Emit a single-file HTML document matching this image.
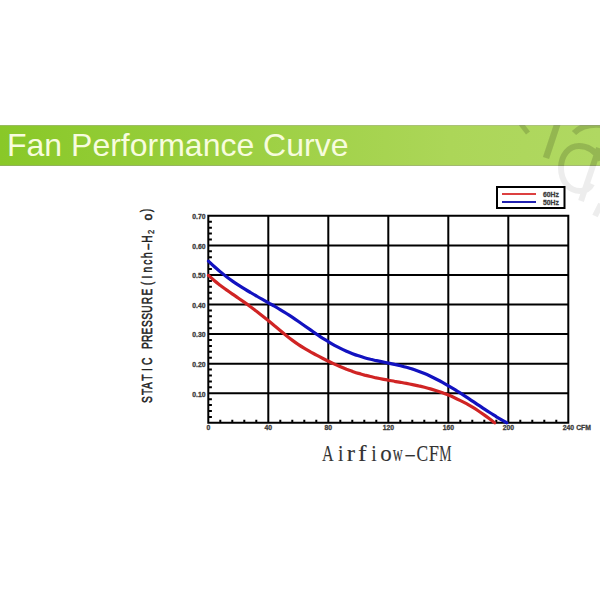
<!DOCTYPE html>
<html><head><meta charset="utf-8">
<style>
html,body{margin:0;padding:0;background:#fff;}
body{width:600px;height:600px;position:relative;overflow:hidden;font-family:"Liberation Sans",sans-serif;}
#bar{position:absolute;left:0;top:125px;width:600px;height:41px;background:linear-gradient(to right,#89c828 0%,#acd658 75%,#b0d862 100%);box-shadow:inset 0 1px 0 rgba(170,170,160,0.45),inset 0 -1px 0 rgba(150,150,140,0.45);}
#title{position:absolute;left:7px;top:125px;height:40px;line-height:40px;font-size:32px;color:#f7fcde;white-space:nowrap;}
svg{position:absolute;left:0;top:0;}
</style></head><body>
<div id="bar"></div>
<div id="title">Fan Performance Curve</div>
<svg width="600" height="600" viewBox="0 0 600 600">
<defs><clipPath id="wmc"><rect x="0" y="125" width="600" height="41"/></clipPath><clipPath id="wmc2"><rect x="0" y="166" width="600" height="434"/></clipPath></defs>
<filter id="wb" x="-10%" y="-10%" width="120%" height="120%"><feGaussianBlur stdDeviation="0.7"/></filter>
<g id="wm" opacity="0.15" fill="none" stroke="#000" stroke-width="6" clip-path="url(#wmc)"><g filter="url(#wb)">
<path d="M521,124 L528,133" stroke-width="5"/>
<path d="M558,122 L546,158" stroke-width="6.5"/>
<path d="M601,160 C596,152 588,146 579,146 C569,146 561,155 561,168 C561,182 570,191 580,191 C586,191 590,188 592,184"/>
<path d="M599,148 L581,201"/>
<path d="M574,133 C580,127 590,124 601,125"/>
<path d="M601,204 L595,216"/>
</g></g>
<g opacity="0.065" fill="none" stroke="#000" stroke-width="6" clip-path="url(#wmc2)"><g filter="url(#wb)">
<path d="M521,124 L528,133" stroke-width="5"/>
<path d="M558,122 L546,158" stroke-width="6.5"/>
<path d="M601,160 C596,152 588,146 579,146 C569,146 561,155 561,168 C561,182 570,191 580,191 C586,191 590,188 592,184"/>
<path d="M599,148 L581,201"/>
<path d="M574,133 C580,127 590,124 601,125"/>
<path d="M601,204 L595,216"/>
</g></g>
<path stroke="#000" stroke-width="2.0" fill="none" d="M207.30,422.86H569.30 M207.30,393.28H569.30 M207.30,363.70H569.30 M207.30,334.12H569.30 M207.30,304.54H569.30 M207.30,274.96H569.30 M207.30,245.38H569.30 M207.30,215.80H569.30 M208.30,214.80V423.86 M268.30,214.80V423.86 M328.30,214.80V423.86 M388.30,214.80V423.86 M448.30,214.80V423.86 M508.30,214.80V423.86 M568.30,214.80V423.86"/>
<path stroke="#000" stroke-width="2.0" fill="none" d="M208.30,416.94H211.90 M208.30,411.03H211.90 M208.30,405.11H211.90 M208.30,399.20H211.90 M208.30,387.36H211.90 M208.30,381.45H211.90 M208.30,375.53H211.90 M208.30,369.62H211.90 M208.30,357.78H211.90 M208.30,351.87H211.90 M208.30,345.95H211.90 M208.30,340.04H211.90 M208.30,328.20H211.90 M208.30,322.29H211.90 M208.30,316.37H211.90 M208.30,310.46H211.90 M208.30,298.62H211.90 M208.30,292.71H211.90 M208.30,286.79H211.90 M208.30,280.88H211.90 M208.30,269.04H211.90 M208.30,263.13H211.90 M208.30,257.21H211.90 M208.30,251.30H211.90 M208.30,239.46H211.90 M208.30,233.55H211.90 M208.30,227.63H211.90 M208.30,221.72H211.90 M220.30,422.86V419.86 M232.30,422.86V419.86 M244.30,422.86V419.86 M256.30,422.86V419.86 M280.30,422.86V419.86 M292.30,422.86V419.86 M304.30,422.86V419.86 M316.30,422.86V419.86 M340.30,422.86V419.86 M352.30,422.86V419.86 M364.30,422.86V419.86 M376.30,422.86V419.86 M400.30,422.86V419.86 M412.30,422.86V419.86 M424.30,422.86V419.86 M436.30,422.86V419.86 M460.30,422.86V419.86 M472.30,422.86V419.86 M484.30,422.86V419.86 M496.30,422.86V419.86 M520.30,422.86V419.86 M532.30,422.86V419.86 M544.30,422.86V419.86 M556.30,422.86V419.86"/>
<g font-family="Liberation Sans" font-weight="bold" font-size="6.8" fill="#3c3c3c" stroke="#3c3c3c" stroke-width="0.3" text-anchor="end">
<text x="205.5" y="396.58">0.10</text>
<text x="205.5" y="367.00">0.20</text>
<text x="205.5" y="337.42">0.30</text>
<text x="205.5" y="307.84">0.40</text>
<text x="205.5" y="278.26">0.50</text>
<text x="205.5" y="248.68">0.60</text>
<text x="205.5" y="219.10">0.70</text>
</g>
<g font-family="Liberation Sans" font-weight="bold" font-size="6.8" fill="#3c3c3c" stroke="#3c3c3c" stroke-width="0.3" text-anchor="middle">
<text x="208.30" y="430.20">0</text>
<text x="268.30" y="430.20">40</text>
<text x="328.30" y="430.20">80</text>
<text x="388.30" y="430.20">120</text>
<text x="448.30" y="430.20">160</text>
<text x="508.30" y="430.20">200</text>
<text x="568.30" y="430.20">240</text>
<text x="583.5" y="430.2">CFM</text>
</g>
<path fill="none" stroke="#1212c0" stroke-width="3.2" stroke-linecap="round" d="M208.5,261.1 C209.5,262.0 212.5,265.0 214.5,266.8 C216.5,268.6 218.5,270.3 220.5,271.9 C222.5,273.6 224.5,275.2 226.5,276.7 C228.5,278.2 230.5,279.7 232.5,281.1 C234.5,282.5 236.5,283.8 238.5,285.1 C240.5,286.4 242.5,287.7 244.5,288.9 C246.5,290.2 248.5,291.4 250.5,292.5 C252.5,293.7 254.5,294.9 256.5,296.0 C258.5,297.2 260.5,298.3 262.5,299.4 C264.5,300.5 266.5,301.7 268.5,302.8 C270.5,303.9 272.5,305.1 274.5,306.2 C276.5,307.4 278.5,308.6 280.5,309.8 C282.5,311.0 284.5,312.2 286.5,313.5 C288.5,314.8 290.5,316.1 292.5,317.4 C294.5,318.7 296.5,320.1 298.5,321.5 C300.5,322.9 302.5,324.3 304.5,325.7 C306.5,327.1 308.5,328.5 310.5,329.9 C312.5,331.3 314.5,332.7 316.5,334.1 C318.5,335.4 320.5,336.8 322.5,338.1 C324.5,339.3 326.5,340.6 328.5,341.8 C330.5,343.0 332.5,344.2 334.5,345.3 C336.5,346.4 338.5,347.4 340.5,348.4 C342.5,349.4 344.5,350.3 346.5,351.2 C348.5,352.1 350.5,352.9 352.5,353.7 C354.5,354.5 356.5,355.2 358.5,355.8 C360.5,356.5 362.5,357.1 364.5,357.7 C366.5,358.3 368.5,358.8 370.5,359.3 C372.5,359.7 374.5,360.2 376.5,360.6 C378.5,361.1 380.5,361.5 382.5,361.9 C384.5,362.3 386.5,362.7 388.5,363.1 C390.5,363.5 392.5,363.9 394.5,364.4 C396.5,364.8 398.5,365.2 400.5,365.7 C402.5,366.2 404.5,366.7 406.5,367.3 C408.5,367.8 410.5,368.5 412.5,369.1 C414.5,369.8 416.5,370.5 418.5,371.2 C420.5,372.0 422.5,372.8 424.5,373.6 C426.5,374.4 428.5,375.3 430.5,376.2 C432.5,377.2 434.5,378.2 436.5,379.2 C438.5,380.2 440.5,381.2 442.5,382.3 C444.5,383.4 446.5,384.6 448.5,385.8 C450.5,387.0 452.5,388.2 454.5,389.4 C456.5,390.7 458.5,391.9 460.5,393.2 C462.5,394.5 464.5,395.8 466.5,397.1 C468.5,398.4 470.5,399.8 472.5,401.1 C474.5,402.4 476.5,403.8 478.5,405.1 C480.5,406.4 482.5,407.8 484.5,409.1 C486.5,410.4 488.5,411.7 490.5,413.0 C492.5,414.3 494.5,415.5 496.5,416.8 C498.5,418.0 500.8,419.4 502.5,420.4 C504.2,421.4 506.1,422.4 506.8,422.8"/>
<path fill="none" stroke="#d02424" stroke-width="3.2" stroke-linecap="round" d="M208.5,275.4 C209.5,276.3 212.5,279.0 214.5,280.7 C216.5,282.4 218.5,283.9 220.5,285.5 C222.5,287.0 224.5,288.4 226.5,289.9 C228.5,291.3 230.5,292.7 232.5,294.1 C234.5,295.5 236.5,296.8 238.5,298.2 C240.5,299.6 242.5,301.0 244.5,302.4 C246.5,303.8 248.5,305.2 250.5,306.7 C252.5,308.1 254.5,309.7 256.5,311.2 C258.5,312.7 260.5,314.3 262.5,315.9 C264.5,317.5 266.5,319.1 268.5,320.7 C270.5,322.3 272.5,324.0 274.5,325.7 C276.5,327.3 278.5,329.0 280.5,330.7 C282.5,332.4 284.5,334.1 286.5,335.7 C288.5,337.3 290.5,338.9 292.5,340.4 C294.5,341.9 296.5,343.3 298.5,344.6 C300.5,346.0 302.5,347.2 304.5,348.4 C306.5,349.6 308.5,350.7 310.5,351.9 C312.5,353.0 314.5,354.0 316.5,355.1 C318.5,356.2 320.5,357.2 322.5,358.2 C324.5,359.2 326.5,360.3 328.5,361.2 C330.5,362.2 332.5,363.2 334.5,364.1 C336.5,365.0 338.5,365.9 340.5,366.8 C342.5,367.7 344.5,368.5 346.5,369.3 C348.5,370.0 350.5,370.8 352.5,371.4 C354.5,372.1 356.5,372.8 358.5,373.4 C360.5,374.0 362.5,374.5 364.5,375.1 C366.5,375.6 368.5,376.1 370.5,376.5 C372.5,377.0 374.5,377.4 376.5,377.9 C378.5,378.3 380.5,378.7 382.5,379.1 C384.5,379.5 386.5,379.8 388.5,380.2 C390.5,380.6 392.5,380.9 394.5,381.3 C396.5,381.6 398.5,382.0 400.5,382.3 C402.5,382.7 404.5,383.1 406.5,383.4 C408.5,383.8 410.5,384.2 412.5,384.6 C414.5,385.0 416.5,385.4 418.5,385.9 C420.5,386.3 422.5,386.8 424.5,387.3 C426.5,387.8 428.5,388.3 430.5,388.9 C432.5,389.5 434.5,390.1 436.5,390.7 C438.5,391.4 440.5,392.1 442.5,392.8 C444.5,393.5 446.5,394.3 448.5,395.1 C450.5,395.9 452.5,396.8 454.5,397.7 C456.5,398.6 458.5,399.6 460.5,400.6 C462.5,401.6 464.5,402.6 466.5,403.7 C468.5,404.8 470.5,406.0 472.5,407.2 C474.5,408.4 476.5,409.7 478.5,411.0 C480.5,412.3 482.5,413.7 484.5,415.1 C486.5,416.5 488.8,418.3 490.5,419.6 C492.2,420.9 493.9,422.3 494.6,422.9"/>
<rect x="497" y="187" width="67.5" height="21" fill="#fff" stroke="#000" stroke-width="2"/>
<path d="M502,194H536" stroke="#dc4040" stroke-width="2.2"/>
<path d="M502,202H536" stroke="#2020b0" stroke-width="2.2"/>
<g font-family="Liberation Sans" font-weight="bold" font-size="6.8" fill="#3c3c3c" stroke="#3c3c3c" stroke-width="0.3">
<text x="543" y="196.7">60Hz</text>
<text x="543" y="204.7">50Hz</text>
</g>
<g font-family="Liberation Sans" font-size="15" fill="#222" stroke="#222" stroke-width="0.55" text-anchor="middle">
<text transform="translate(151.8,399.70) rotate(-90) scale(0.68,1)">S</text>
<text transform="translate(151.8,392.00) rotate(-90) scale(0.68,1)">T</text>
<text transform="translate(151.8,385.50) rotate(-90) scale(0.68,1)">A</text>
<text transform="translate(151.8,377.60) rotate(-90) scale(0.68,1)">T</text>
<text transform="translate(151.8,369.50) rotate(-90) scale(0.68,1)">I</text>
<text transform="translate(151.8,361.30) rotate(-90) scale(0.68,1)">C</text>
<text transform="translate(151.8,345.50) rotate(-90) scale(0.68,1)">P</text>
<text transform="translate(151.8,338.20) rotate(-90) scale(0.68,1)">R</text>
<text transform="translate(151.8,331.00) rotate(-90) scale(0.68,1)">E</text>
<text transform="translate(151.8,323.70) rotate(-90) scale(0.68,1)">S</text>
<text transform="translate(151.8,316.30) rotate(-90) scale(0.68,1)">S</text>
<text transform="translate(151.8,309.00) rotate(-90) scale(0.68,1)">U</text>
<text transform="translate(151.8,300.50) rotate(-90) scale(0.68,1)">R</text>
<text transform="translate(151.8,292.00) rotate(-90) scale(0.68,1)">E</text>
<text transform="translate(151.8,283.50) rotate(-90) scale(0.68,1)">(</text>
<text transform="translate(151.8,277.20) rotate(-90) scale(0.68,1)">I</text>
<text transform="translate(151.8,269.70) rotate(-90) scale(0.68,1)">n</text>
<text transform="translate(151.8,262.20) rotate(-90) scale(0.68,1)">c</text>
<text transform="translate(151.8,255.20) rotate(-90) scale(0.68,1)">h</text>
<text transform="translate(151.8,246.70) rotate(-90) scale(0.68,1)">&#8211;</text>
<text transform="translate(151.8,239.00) rotate(-90) scale(0.68,1)">H</text>
<text transform="translate(154,232) rotate(-90) scale(0.85,1)" font-size="9" stroke-width="0.3">2</text>
<text transform="translate(152.2,217) rotate(-90) scale(0.95,1)" font-size="13">o</text>
<text transform="translate(150.8,210.5) rotate(-90) scale(0.75,1)" font-size="14" stroke-width="0.45">)</text>
</g>
<g font-family="Liberation Serif" font-size="23" fill="#333" stroke="#333" stroke-width="0.1">
<text transform="translate(321.88,460.7) scale(0.700,1)">A</text>
<text transform="translate(337.93,460.7) scale(0.850,1)">i</text>
<text transform="translate(346.73,460.7) scale(1.080,1)">r</text>
<text transform="translate(358.00,460.7) scale(1.120,1)">f</text>
<text transform="translate(371.28,460.7) scale(0.850,1)">i</text>
<text transform="translate(380.30,460.7) scale(1.000,1)">o</text>
<text transform="translate(392.83,460.7) scale(0.600,1)">w</text>
<text transform="translate(405.54,460.7) scale(0.800,1)">&#8211;</text>
<text transform="translate(416.39,460.7) scale(0.760,1)">C</text>
<text transform="translate(428.66,460.7) scale(0.800,1)">F</text>
<text transform="translate(439.33,460.7) scale(0.600,1)">M</text>
</g>
</svg>
</body></html>
